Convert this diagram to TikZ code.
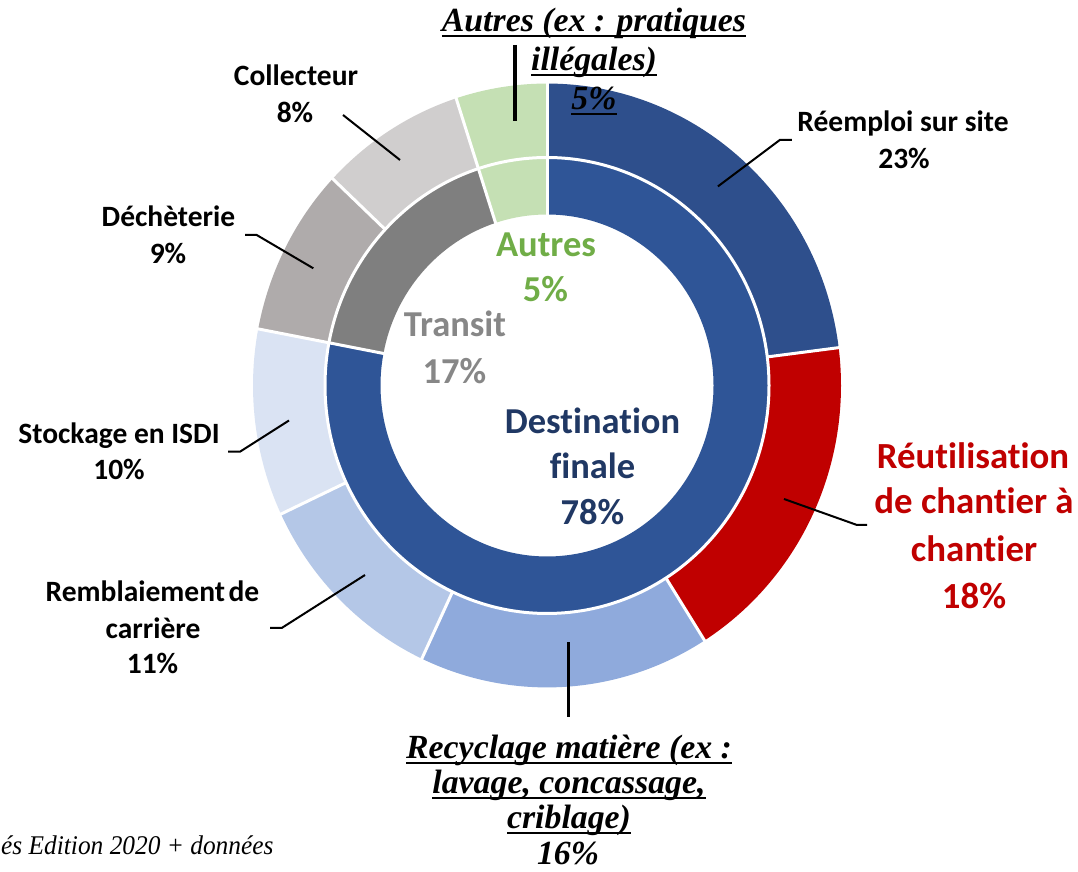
\documentclass[tikz,border=0pt]{standalone}
\usepackage{fontspec}
\setmainfont{Carlito}[Ligatures={NoCommon,NoContextual}]
\newfontfamily\tnr{Liberation Serif}
\newsavebox\ulbox
\newcommand{\myul}[1]{\sbox\ulbox{#1}\rlap{\rule[-5.5pt]{\wd\ulbox}{2pt}}\usebox\ulbox}
\newcommand{\ringpart}[5]{\fill[#5] (#1:#3) arc[start angle=#1, end angle=#2, radius=#3] -- (#2:#4) arc[start angle=#2, end angle=#1, radius=#4] -- cycle;}
\definecolor{cReemploi}{HTML}{2E4F8C}
\definecolor{cDest}{HTML}{2F5597}
\definecolor{cRed}{HTML}{C00000}
\definecolor{cRecyc}{HTML}{8FAADC}
\definecolor{cRembl}{HTML}{B4C7E7}
\definecolor{cStock}{HTML}{DAE3F3}
\definecolor{cDech}{HTML}{AFABAB}
\definecolor{cColl}{HTML}{D0CECE}
\definecolor{cAutres}{HTML}{C5E0B4}
\definecolor{cTransit}{HTML}{7F7F7F}
\definecolor{tGreen}{HTML}{70AD47}
\definecolor{tGrey}{HTML}{878787}
\definecolor{tNavy}{HTML}{203864}
\begin{document}
\begin{tikzpicture}[x=1pt,y=1pt,
  lab/.style={anchor=base, inner sep=0pt, font=\fontsize{29.5}{36}\selectfont\bfseries},
  redlab/.style={anchor=base, inner sep=0pt, text=cRed, font=\fontsize{36.8}{45}\selectfont\bfseries},
  cenlab/.style={anchor=base, inner sep=0pt, font=\fontsize{36.5}{45}\selectfont\bfseries},
  note/.style={anchor=base, inner sep=0pt, font=\tnr\fontsize{33.8}{39}\selectfont\bfseries\itshape},
  leader/.style={draw=black, line width=2pt},
  bigleader/.style={draw=black, line width=3.5pt},
  sep/.style={draw=white, line width=3pt}]
\useasboundingbox (0,0) rectangle (1078,872);
\fill[white] (0,0) rectangle (1078,872);
% donut
\begin{scope}[shift={(547,486.5)}, yscale=1.027]
  \ringpart{90}{7.2}{222}{294}{cReemploi}
  \ringpart{7.2}{-57.6}{222}{294}{cRed}
  \ringpart{-57.6}{-115.2}{222}{294}{cRecyc}
  \ringpart{-115.2}{-154.8}{222}{294}{cRembl}
  \ringpart{-154.8}{-190.8}{222}{294}{cStock}
  \ringpart{-190.8}{-223.2}{222}{294}{cDech}
  \ringpart{-223.2}{-252}{222}{294}{cColl}
  \ringpart{-252}{-270}{222}{294}{cAutres}
  \ringpart{90}{-190.8}{166.5}{222}{cDest}
  \ringpart{-190.8}{-252}{166.5}{222}{cTransit}
  \ringpart{-252}{-270}{166.5}{222}{cAutres}
  \draw[sep] (0,0) circle[radius=222];
  \foreach \a in {90,7.2,-57.6,-115.2,-154.8,-190.8,-223.2,-252}
    \draw[sep] (\a:222) -- (\a:296);
  \foreach \a in {90,-190.8,-252}
    \draw[sep] (\a:164) -- (\a:222);
\end{scope}
% leader lines
\coordinate (colA) at (343,757); \coordinate (colB) at (400,712);
\draw[leader] (colA) -- (colB);
\coordinate (decA) at (245,637); \coordinate (decK) at (256.7,637); \coordinate (decB) at (313.3,603.7);
\draw[leader] (decA) -- (decK) -- (decB);
\coordinate (stoA) at (228,420.3); \coordinate (stoK) at (240,420.3); \coordinate (stoB) at (289,451.5);
\draw[leader] (stoA) -- (stoK) -- (stoB);
\coordinate (remA) at (270,244); \coordinate (remK) at (281.7,244); \coordinate (remB) at (365,297);
\draw[leader] (remA) -- (remK) -- (remB);
\coordinate (reeA) at (791.9,732.1); \coordinate (reeK) at (779.9,732.1); \coordinate (reeB) at (717.9,685.6);
\draw[leader] (reeA) -- (reeK) -- (reeB);
\coordinate (reuA) at (867,347); \coordinate (reuK) at (857,347); \coordinate (reuB) at (784,373);
\draw[leader] (reuA) -- (reuK) -- (reuB);
\coordinate (autA) at (515,827); \coordinate (autB) at (515,751.3);
\draw[bigleader] (autA) -- (autB);
\coordinate (recA) at (568.3,155.3); \coordinate (recB) at (568.3,230.3);
\draw[bigleader] (recA) -- (recB);
% outer labels
\node[lab] (col1) at (296,786) {Collecteur};
\node[lab] (col2) at (295,749.3) {8\%};
\node[lab] (dec1) at (168.5,645.3) {Déchèterie};
\node[lab] (dec2) at (168,608.7) {9\%};
\node[lab] (sto1) at (119,428.7) {Stockage en ISDI};
\node[lab] (sto2) at (119,392) {10\%};
\node[lab] (rem1) at (152.5,270.3) {Remblaiement\hspace{0.12em}de};
\node[lab] (rem2) at (153,233.7) {carrière};
\node[lab] (rem3) at (152.5,198) {11\%};
\node[lab] (ree1) at (903,740) {Réemploi sur site};
\node[lab] (ree2) at (904,703.5) {23\%};
\node[redlab] (reu1) at (973,403.2) {Réutilisation};
\node[redlab] (reu2) at (974,358.4) {de chantier à};
\node[redlab] (reu3) at (974,310.2) {chantier};
\node[redlab] (reu4) at (974,263.7) {18\%};
% inner labels
\node[cenlab, text=tGreen] (ia1) at (546,615.3) {Autres};
\node[cenlab, text=tGreen] (ia2) at (545.5,570.3) {5\%};
\node[cenlab, text=tGrey] (it1) at (455,535.3) {Transit};
\node[cenlab, text=tGrey] (it2) at (454.5,488.7) {17\%};
\node[cenlab, text=tNavy] (id1) at (592.5,438.7) {Destination};
\node[cenlab, text=tNavy] (id2) at (592.5,393.7) {finale};
\node[cenlab, text=tNavy] (id3) at (592.5,347) {78\%};
% underlined notes
\node[note] (top1) at (594,840.3) {\myul{Autres (ex : pratiques}};
\node[note] (top2) at (594,801.3) {\myul{illégales)}};
\node[note] (top3) at (594,762.7) {\myul{5\%}};
\node[note] (bot1) at (569,113.7) {\myul{Recyclage matière (ex :}};
\node[note] (bot2) at (569,78.7) {\myul{lavage, concassage,}};
\node[note] (bot3) at (569,43.7) {\myul{criblage)}};
\node[note] (bot4) at (568,7) {16\%};
% caption
\node[anchor=base west, inner sep=0pt, font=\tnr\itshape\fontsize{27}{30}\selectfont, xscale=0.94] (cap) at (1,17) {és Edition 2020 + données};
\end{tikzpicture}
\end{document}
